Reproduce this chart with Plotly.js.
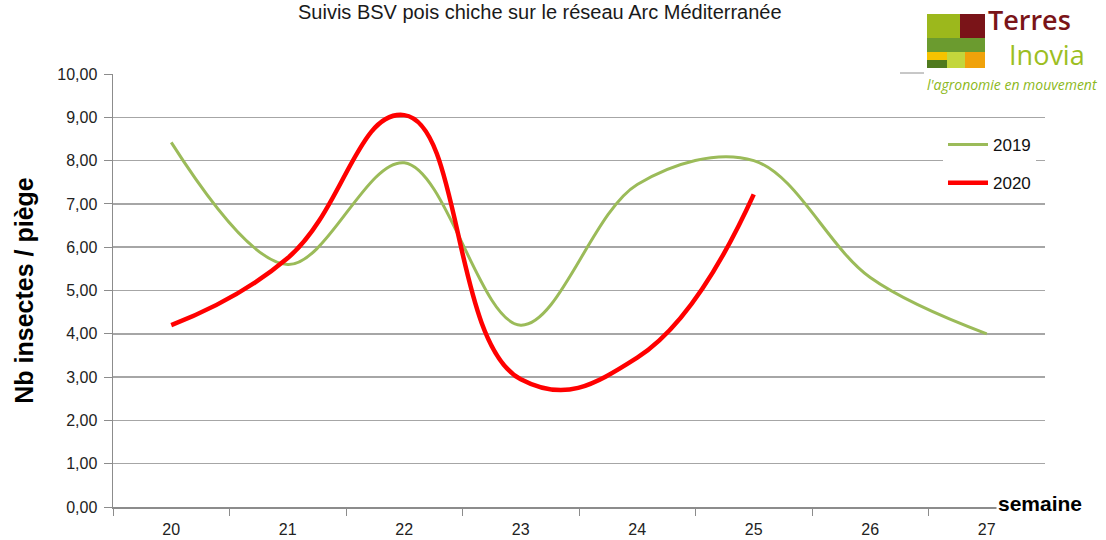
<!DOCTYPE html>
<html>
<head>
<meta charset="utf-8">
<script src="https://cdn.plot.ly/plotly-3.0.1.min.js"></script>
<style>html,body{margin:0;padding:0;background:#fff;}#chart{width:1106px;height:540px;}</style>
</head>
<body>
<div id="chart"></div>
<script>
const weeks = ["20", "21", "22", "23", "24", "25", "26", "27"];
const weeks2020 = ["20", "21", "22", "23", "24", "25"];
const values2019 = [8.42, 5.6, 7.95, 4.2, 7.45, 8.0, 5.3, 4.0];
const values2020 = [4.2, 5.75, 9.05, 2.95, 3.45, 7.22];
const seriesNames = ["2019", "2020"];

const W = 1106, H = 540;
const L = 113, R = 61, T = 74, B = 33;
const pw = W - L - R, ph = H - T - B;
const px = x => (x - L) / pw;
const py = y => (H - B - y) / ph;

const FONT = "Liberation Sans, Arial, sans-serif";

const traces = [
  {x: weeks, y: values2019, name: seriesNames[0], type: "scatter", mode: "lines",
   line: {color: "#9BBB59", width: 3, shape: "spline", smoothing: 1}, legendgroup: "a"},
  {x: weeks2020, y: values2020, name: seriesNames[1], type: "scatter", mode: "lines",
   line: {color: "#FF0000", width: 4.5, shape: "spline", smoothing: 1.3}, legendgroup: "b"}
];

function rect(x0, y0, x1, y1, color) {
  return {type: "rect", xref: "paper", yref: "paper", x0: px(x0), x1: px(x1), y0: py(y1), y1: py(y0),
          fillcolor: color, line: {width: 0}, layer: "above"};
}

const shapes = [
  rect(927, 14, 960, 38, "#9CB81C"),
  rect(960, 14, 985, 38, "#7A1418"),
  rect(927, 38, 985, 52, "#6B9B2F"),
  rect(927, 52, 947, 60, "#F5C300"),
  rect(927, 60, 947, 68, "#4F7A1E"),
  rect(947, 52, 965, 68, "#C3D63C"),
  rect(965, 52, 985, 68, "#F0A20A"),
  {type: "line", xref: "paper", yref: "paper", x0: px(900), x1: px(924), y0: py(73), y1: py(73),
   line: {color: "#909090", width: 1}}
];

const annotations = [
  {text: "Suivis BSV pois chiche sur le réseau Arc Méditerranée", xref: "paper", yref: "paper",
   x: px(540), y: py(12), xanchor: "center", yanchor: "middle", showarrow: false,
   font: {family: FONT, size: 20, color: "#1a1a1a"}},
  {text: "semaine", xref: "paper", yref: "paper", x: px(996), y: py(503), xanchor: "left", yanchor: "middle",
   showarrow: false, bgcolor: "#ffffff", borderpad: 1,
   font: {family: "Liberation Sans Narrow, Liberation Sans, Arial, sans-serif", size: 21, color: "#000", weight: "bold"}},
  {text: "<span style='color:#7A1418;font-weight:600'>Terres</span><br><span style='color:#9CBE22'>&nbsp;&nbsp;&nbsp;Inovia</span>",
   xref: "paper", yref: "paper", x: px(987), y: py(37), xanchor: "left", yanchor: "middle", align: "left",
   showarrow: false, borderpad: 0, font: {family: "Open Sans, sans-serif", size: 27, color: "#7A1418"}},
  {text: "<i>l'agronomie en mouvement</i>", xref: "paper", yref: "paper", x: px(926), y: py(84), xanchor: "left", yanchor: "middle",
   showarrow: false, borderpad: 0, font: {family: "Open Sans, sans-serif", size: 14, color: "#8CB820"}}
];

const layout = {
  width: W, height: H,
  margin: {l: L, r: R, t: T, b: B, pad: 0},
  paper_bgcolor: "#ffffff", plot_bgcolor: "#ffffff",
  showlegend: true,
  legend: {x: px(943), y: py(127), xanchor: "left", yanchor: "top", bgcolor: "#ffffff",
           font: {family: FONT, size: 17, color: "#111"}, traceorder: "grouped", tracegroupgap: 13,
           itemwidth: 40},
  xaxis: {type: "category", categoryorder: "array", categoryarray: weeks,
          range: [-0.5, 7.5], tickson: "boundaries", ticks: "outside", ticklen: 7, tickcolor: "#8c8c8c",
          showgrid: false, showline: true, linecolor: "#8c8c8c", linewidth: 1.5, zeroline: false,
          ticklabelstandoff: 7,
          tickfont: {family: FONT, size: 16, color: "#222"}, fixedrange: true},
  yaxis: {range: [0, 10], dtick: 1, tick0: 0, tickformat: ".2f", ticks: "outside", ticklen: 8, tickcolor: "#8c8c8c",
          showgrid: true, gridcolor: "#a6a6a6", gridwidth: 1.5, showline: true, linecolor: "#8c8c8c", linewidth: 1.5,
          zeroline: false, tickfont: {family: FONT, size: 16, color: "#222"}, ticklabelstandoff: 3,
          title: {text: "Nb insectes / piège", font: {family: FONT, size: 25, color: "#000", weight: "bold"}, standoff: 16},
          fixedrange: true},
  separators: ",.",
  shapes: shapes,
  annotations: annotations
};

Plotly.newPlot("chart", traces, layout, {displayModeBar: false, staticPlot: true});
</script>
</body>
</html>
